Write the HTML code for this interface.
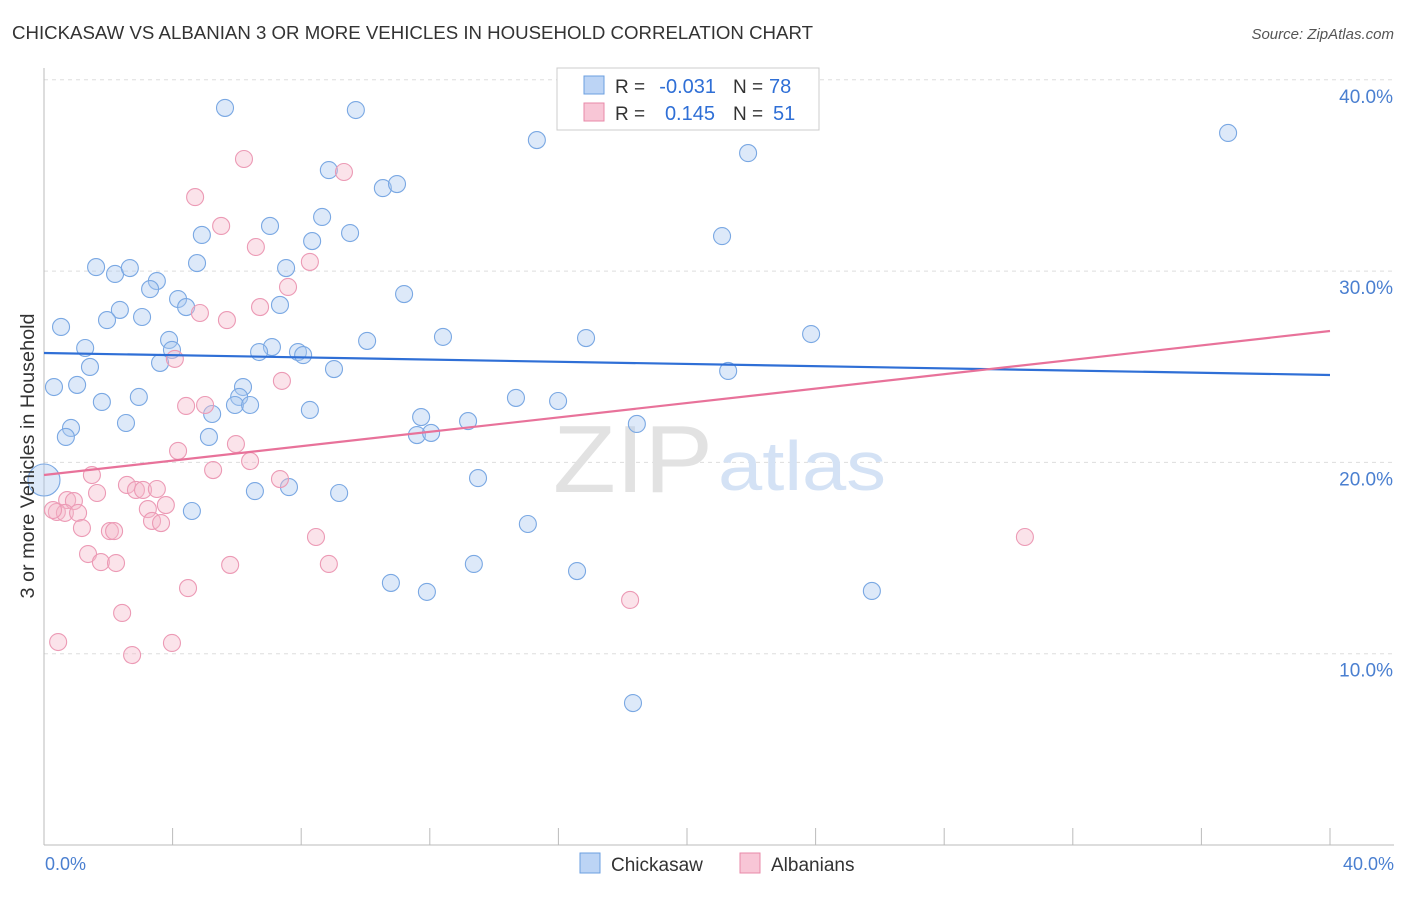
<!DOCTYPE html>
<html><head><meta charset="utf-8"><style>
body{margin:0;background:#fff;font-family:"Liberation Sans",sans-serif;}
svg text{font-family:"Liberation Sans",sans-serif;}
</style></head><body>
<svg width="1406" height="892" viewBox="0 0 1406 892">
<text x="12" y="39" font-size="18" fill="#333" textLength="801" lengthAdjust="spacingAndGlyphs">CHICKASAW VS ALBANIAN 3 OR MORE VEHICLES IN HOUSEHOLD CORRELATION CHART</text>
<text x="1394" y="39" font-size="15" fill="#555" font-style="italic" text-anchor="end">Source: ZipAtlas.com</text>
<g id="grid"></g>
<text x="553" y="492" font-size="96" fill="#e2e2e2" font-family="Liberation Serif" textLength="160" lengthAdjust="spacingAndGlyphs">ZIP</text>
<text x="718" y="490" font-size="70" fill="#d4e2f5" textLength="168" lengthAdjust="spacingAndGlyphs">atlas</text>
<g id="pts"></g>
<g id="trend"></g>
<text x="34" y="456" font-size="19" fill="#333" text-anchor="middle" transform="rotate(-90 34 456)" textLength="285" lengthAdjust="spacingAndGlyphs">3 or more Vehicles in Household</text>
<text x="45" y="870" font-size="18" fill="#4a7fd0">0.0%</text>
<text x="1394" y="870" font-size="18" fill="#4a7fd0" text-anchor="end">40.0%</text>
<g>
<rect x="557" y="68" width="262" height="62" fill="#fff" stroke="#ccc"/>
<rect x="584" y="76" width="20" height="18" fill="#bcd4f5" stroke="#6b9fe0"/>
<rect x="584" y="103" width="20" height="18" fill="#f8c6d6" stroke="#e889a8"/>
<text x="615" y="93" font-size="19" fill="#333">R =</text>
<text x="716" y="93" font-size="20" fill="#2f6fd6" text-anchor="end">-0.031</text>
<text x="733" y="93" font-size="19" fill="#333">N =</text>
<text x="769" y="93" font-size="20" fill="#2f6fd6">78</text>
<text x="615" y="120" font-size="19" fill="#333">R =</text>
<text x="715" y="120" font-size="20" fill="#2f6fd6" text-anchor="end">0.145</text>
<text x="733" y="120" font-size="19" fill="#333">N =</text>
<text x="773" y="120" font-size="20" fill="#2f6fd6">51</text>
</g>
<g>
<rect x="580" y="853" width="20" height="20" fill="#bcd4f5" stroke="#6b9fe0"/>
<text x="611" y="871" font-size="19" fill="#333">Chickasaw</text>
<rect x="740" y="853" width="20" height="20" fill="#f8c6d6" stroke="#e889a8"/>
<text x="771" y="871" font-size="19" fill="#333">Albanians</text>
</g>
</svg>
<script>
const yTicks=[10,20,30,40];
const yTickLabels=["10.0%","20.0%","30.0%","40.0%"];
const xTicks=[0,4,8,12,16,20,24,28,32,36,40];
const blueX=[5.63,9.70,15.33,36.83,21.90,8.86,10.54,10.98,8.65,7.03,4.91,9.52,8.34,21.09,1.62,2.21,2.67,4.76,7.53,3.51,3.30,4.17,4.42,7.34,11.20,2.36,1.96,3.05,0.53,3.89,12.41,16.86,23.86,10.05,1.28,3.98,7.09,6.69,7.90,8.06,1.43,3.61,9.02,21.28,0.31,1.03,6.19,2.95,6.07,14.68,15.99,1.80,5.94,6.41,5.23,8.27,11.73,13.19,0.84,2.55,18.44,0.68,5.13,11.60,12.04,13.50,6.56,7.62,9.18,4.60,15.05,13.37,10.79,16.58,11.91,25.75,18.32,0];
const blueY=[38.53,38.42,36.85,37.22,36.17,35.28,34.34,34.55,32.83,32.36,31.89,31.99,31.57,31.83,30.21,29.85,30.16,30.42,30.16,29.48,29.06,28.54,28.12,28.23,28.80,27.97,27.44,27.60,27.08,26.40,26.56,26.50,26.71,26.35,25.98,25.88,26.03,25.77,25.77,25.61,24.99,25.20,24.88,24.78,23.94,24.05,23.94,23.42,23.42,23.37,23.21,23.16,23.00,23.00,22.53,22.74,22.37,22.16,21.80,22.06,22.01,21.33,21.33,21.43,21.54,19.18,18.50,18.71,18.40,17.46,16.78,14.69,13.70,14.32,13.23,13.28,7.42,19.08];
const pinkX=[6.22,9.33,4.70,5.51,6.59,8.27,7.59,6.72,4.85,5.69,4.07,7.40,4.42,5.01,5.97,4.17,6.41,5.26,7.34,1.49,2.58,2.86,3.08,3.51,1.65,0.72,0.93,3.79,3.23,0.40,0.65,1.06,3.36,3.64,1.18,2.05,2.18,8.46,30.51,1.37,1.77,2.24,5.79,8.86,4.48,18.23,2.43,0.44,3.98,2.74,0.28];
const pinkY=[35.86,35.18,33.87,32.36,31.26,30.48,29.17,28.12,27.81,27.44,25.41,24.26,22.95,23.00,20.96,20.60,20.07,19.60,19.13,19.34,18.82,18.56,18.56,18.61,18.40,18.03,17.98,17.77,17.56,17.41,17.36,17.36,16.94,16.83,16.57,16.41,16.41,16.10,16.10,15.21,14.79,14.74,14.64,14.69,13.43,12.81,12.13,10.61,10.56,9.93,17.51];
const blueTrend=[25.72,24.57];
const pinkTrend=[19.34,26.87];
const trendX=[0,40];
const NS="http://www.w3.org/2000/svg";
const X=v=>44+v*32.15, Y=v=>845-v*19.13;
function mk(t,a,p){const e=document.createElementNS(NS,t);for(const k in a)e.setAttribute(k,a[k]);p.appendChild(e);return e;}
const g=document.getElementById('grid');
yTicks.forEach((t,i)=>{
 const l=mk('line',{x1:44,x2:1394,y1:Y(t),y2:Y(t),stroke:'#ddd','stroke-dasharray':'4,4'},g);
 
 
 const tx=mk('text',{x:1393,y:Y(t)+23,'font-size':19,fill:'#4a7fd0','text-anchor':'end'},g);
 tx.textContent=yTickLabels[i];
 
 
});
const ax=mk('line',{x1:44,x2:1394,y1:845,y2:845,stroke:'#bbb'},g);


const ay=mk('line',{x1:44,x2:44,y1:68,y2:845,stroke:'#bbb'},g);


xTicks.forEach(t=>{
 const l=mk('line',{x1:X(t),x2:X(t),y1:828,y2:845,stroke:'#bbb'},g);
 
 
});
const p=document.getElementById('pts');
function dots(xs,ys,fill,stroke,name){xs.forEach((x,i)=>{
 const c=mk('circle',{cx:X(x),cy:Y(ys[i]),r:(x===0?16:8.5),fill:fill,'fill-opacity':0.4,stroke:stroke,'stroke-width':1.1},p);
 
 
});}
dots(blueX,blueY,'#a9c8f0','#7aa8e3','chickasaw-point');
dots(pinkX,pinkY,'#f5b8cb','#ec9ab5','albanian-point');
const tr=document.getElementById('trend');
const bl=mk('line',{x1:X(trendX[0]),x2:X(trendX[1]),y1:Y(blueTrend[0]),y2:Y(blueTrend[1]),stroke:'#2f6fd6','stroke-width':2.2},tr);


const pl=mk('line',{x1:X(trendX[0]),x2:X(trendX[1]),y1:Y(pinkTrend[0]),y2:Y(pinkTrend[1]),stroke:'#e8729a','stroke-width':2.2},tr);


</script>
</body></html>
